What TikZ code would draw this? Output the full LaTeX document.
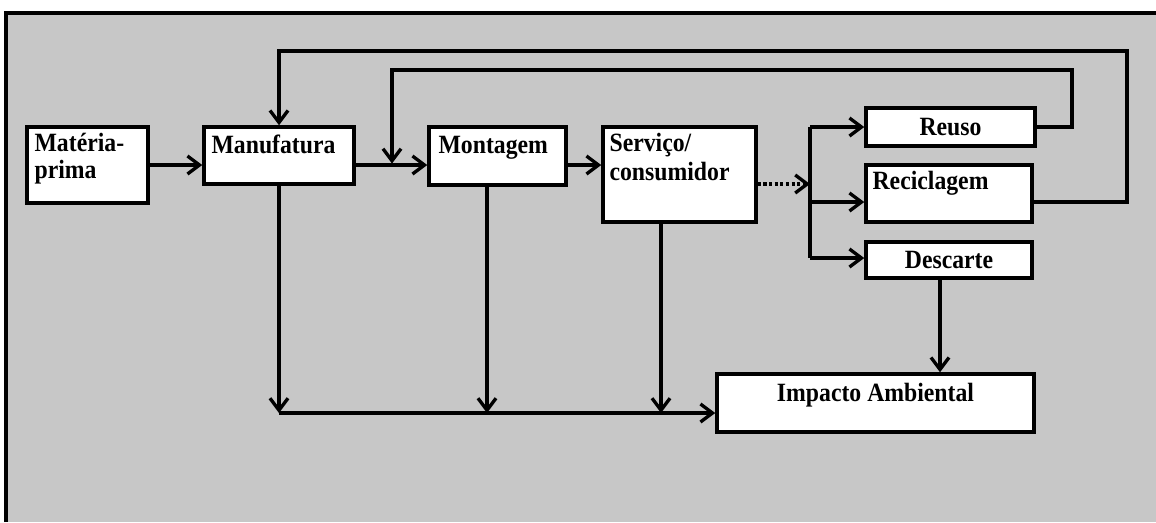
\documentclass[tikz,border=0pt]{standalone}
\usepackage{fontspec}
\setmainfont{Liberation Serif}[FakeStretch=0.9]
\usetikzlibrary{arrows.meta}

\tikzset{
  blk/.style={draw, fill=white, line width=2pt, inner sep=0pt, font=\bfseries\fontsize{15}{15}\selectfont},
  lbl/.style={inner sep=0pt, align=left, font=\bfseries\fontsize{15}{15}\selectfont},
  flow/.style={line width=1.9pt, -{Straight Barb[length=2.4mm, width=3.6mm]}},
  wire/.style={line width=1.9pt},
  dotline/.style={dash pattern=on 1.8pt off 1.4pt},
}

\begin{document}
\begin{tikzpicture}
  \useasboundingbox (0,0) rectangle (23.12,-10.44);
  % background
  \fill[black!22] (0.12,-0.26) rectangle (23.12,-10.44);
  \draw[line width=1.8pt] (0.12,-10.44) -- (0.12,-0.26) -- (23.12,-0.26);

  % boxes
  \node[blk, minimum width=2.42cm, minimum height=1.52cm, label={[lbl, anchor=north west, xshift=1.8mm, yshift=-1.6mm]north west:{Matéria-\\prima}}] (mp) at (1.75,-3.30) {};
  \node[blk, minimum width=3.00cm, minimum height=1.14cm, label={[lbl, anchor=north west, xshift=1.8mm, yshift=-1.9mm]north west:Manufatura}] (man) at (5.58,-3.11) {};
  \node[blk, minimum width=2.74cm, minimum height=1.16cm, label={[lbl, anchor=north west, xshift=2.2mm, yshift=-2.2mm]north west:Montagem}] (mon) at (9.95,-3.12) {};
  \node[blk, minimum width=3.06cm, minimum height=1.90cm, label={[lbl, anchor=north west, xshift=1.6mm, yshift=-1.6mm, font=\bfseries\fontsize{15}{16.5}\selectfont]north west:{Serviço/\\consumidor}}] (serv) at (13.59,-3.49) {};
  \node[blk, minimum width=3.38cm, minimum height=0.76cm] (reuso) at (19.01,-2.54) {Reuso};
  \node[blk, minimum width=3.32cm, minimum height=1.14cm, label={[lbl, anchor=north west, xshift=1.6mm, yshift=-1.6mm]north west:Reciclagem}] (recic) at (18.98,-3.87) {};
  \node[blk, minimum width=3.32cm, minimum height=0.72cm] (desc) at (18.98,-5.20) {Descarte};
  \node[blk, minimum width=6.34cm, minimum height=1.16cm, label={[lbl, anchor=north, yshift=-2.1mm]north:Impacto Ambiental}] (imp) at (17.51,-8.06) {};

  % helper points
  \coordinate (row) at (0,-3.30);
  \coordinate (bus) at (0,-8.26);
  \coordinate (split) at (16.2,-3.68);
  \coordinate (br1) at (16.2,-2.54);
  \coordinate (br2) at (16.2,-4.04);
  \coordinate (br3) at (16.2,-5.16);
  \coordinate (fb1a) at (21.44,-2.54);
  \coordinate (fb1b) at (7.84,-1.40);
  \coordinate (fb1c) at (7.84,-3.27);
  \coordinate (fb2a) at (22.54,-4.04);
  \coordinate (fb2b) at (5.58,-1.02);
  \coordinate (monD) at ([xshift=-2.1mm]mon.south);
  \coordinate (servD) at ([xshift=-3.7mm]serv.south);
  \coordinate (descD) at ([xshift=-1.8mm]desc.south);

  % main flow
  \draw[flow] (mp.east) -- (mp.east -| man.west);
  \draw[flow] (man.east |- row) -- (mon.west |- row);
  \draw[flow] (mon.east |- row) -- (serv.west |- row);
  \draw[flow, dotline] (serv.east |- split) -- (split);
  \draw[wire] (br1) -- (br3);
  \draw[flow] (br1) -- (br1 -| reuso.west);
  \draw[flow] (br2) -- (br2 -| recic.west);
  \draw[flow] (br3) -- (br3 -| desc.west);

  % feedback loops
  \draw[flow] (reuso.east) -- (fb1a) |- (fb1b) -- (fb1c);
  \draw[flow] (fb2a -| recic.east) -- (fb2a) |- (fb2b) -- (man.north);

  % impact
  \draw[flow] (man.south) -- (man.south |- bus);
  \draw[flow] (monD) -- (monD |- bus);
  \draw[flow] (servD) -- (servD |- bus);
  \draw[flow] (man.south |- bus) -- (imp.west |- bus);
  \draw[flow] (descD) -- (descD |- imp.north);
\end{tikzpicture}
\end{document}
